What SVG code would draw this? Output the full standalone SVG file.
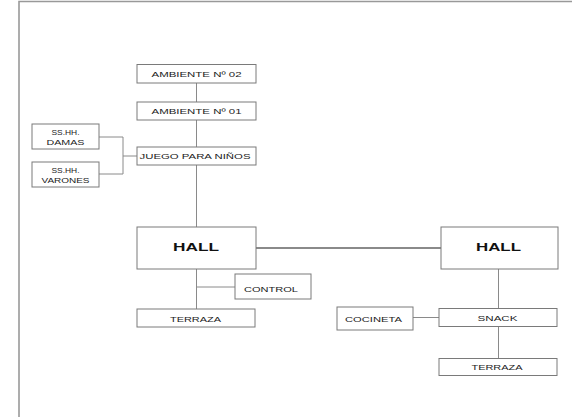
<svg xmlns="http://www.w3.org/2000/svg" width="572" height="417" viewBox="0 0 572 417">
<style>
.bx{fill:#fff;stroke:#7a7a7a;stroke-width:1}
.t{font-family:"Liberation Sans",Arial,sans-serif;font-size:8px;fill:#222;text-anchor:middle}
.h{font-family:"Liberation Sans",Arial,sans-serif;font-size:11.5px;font-weight:bold;fill:#111;text-anchor:middle}
.c{stroke:#8a8a8a;stroke-width:1;fill:none}
.frame{stroke:#999;stroke-width:1.6;fill:none}
</style>
<rect width="572" height="417" fill="#fff"/>
<path class="frame" d="M19,417 V1.5 H572"/>
<g id="connectors">
<line class="c" x1="196.5" y1="83" x2="196.5" y2="102"/>
<line class="c" x1="196.5" y1="120" x2="196.5" y2="147"/>
<line class="c" x1="196.5" y1="165" x2="196.5" y2="227"/>
<polyline class="c" points="99,137 123,137 123,174 99,174"/>
<line class="c" x1="123" y1="156" x2="137" y2="156"/>
<line class="c" x1="256" y1="248" x2="441" y2="248" style="stroke-width:2"/>
<line class="c" x1="196.5" y1="269" x2="196.5" y2="309"/>
<line class="c" x1="196.5" y1="287" x2="235" y2="287"/>
<line class="c" x1="498.5" y1="269" x2="498.5" y2="308.5"/>
<line class="c" x1="413" y1="317.5" x2="439" y2="317.5"/>
<line class="c" x1="498.5" y1="326.5" x2="498.5" y2="358.5"/>
</g>
<g id="amb02"><rect class="bx" x="137" y="64.5" width="119" height="18.5"/><text class="t" x="196.5" y="76.5" textLength="90" lengthAdjust="spacingAndGlyphs">AMBIENTE Nº 02</text></g>
<g id="amb01"><rect class="bx" x="137" y="102" width="119" height="18"/><text class="t" x="196.5" y="114" textLength="90" lengthAdjust="spacingAndGlyphs">AMBIENTE Nº 01</text></g>
<g id="juego"><rect class="bx" x="137" y="147" width="119" height="18"/><text class="t" x="195" y="159" textLength="111" lengthAdjust="spacingAndGlyphs">JUEGO PARA NIÑOS</text></g>
<g id="damas"><rect class="bx" x="32" y="124" width="67" height="25"/><text class="t" x="65.5" y="135" textLength="28" lengthAdjust="spacingAndGlyphs">SS.HH.</text><text class="t" x="65.5" y="144.5" textLength="38" lengthAdjust="spacingAndGlyphs">DAMAS</text></g>
<g id="varones"><rect class="bx" x="32" y="162" width="67" height="25"/><text class="t" x="65.5" y="173" textLength="28" lengthAdjust="spacingAndGlyphs">SS.HH.</text><text class="t" x="65.5" y="183" textLength="48" lengthAdjust="spacingAndGlyphs">VARONES</text></g>
<g id="hall1"><rect class="bx" x="137" y="227" width="119" height="42"/><text class="h" x="196" y="251" textLength="46" lengthAdjust="spacingAndGlyphs">HALL</text></g>
<g id="control"><rect class="bx" x="235" y="274" width="76" height="25"/><text class="t" x="271" y="291.5" textLength="54" lengthAdjust="spacingAndGlyphs">CONTROL</text></g>
<g id="terraza1"><rect class="bx" x="137" y="309" width="118" height="18"/><text class="t" x="195.5" y="321.5" textLength="51" lengthAdjust="spacingAndGlyphs">TERRAZA</text></g>
<g id="hall2"><rect class="bx" x="441" y="227" width="117" height="42"/><text class="h" x="498.5" y="251" textLength="45" lengthAdjust="spacingAndGlyphs">HALL</text></g>
<g id="cocineta"><rect class="bx" x="337" y="307" width="76" height="23"/><text class="t" x="373.5" y="321.5" textLength="57" lengthAdjust="spacingAndGlyphs">COCINETA</text></g>
<g id="snack"><rect class="bx" x="439" y="308.5" width="118" height="18"/><text class="t" x="497.5" y="321" textLength="40" lengthAdjust="spacingAndGlyphs">SNACK</text></g>
<g id="terraza2"><rect class="bx" x="439" y="358.5" width="118" height="17"/><text class="t" x="497" y="370" textLength="51" lengthAdjust="spacingAndGlyphs">TERRAZA</text></g>
</svg>
